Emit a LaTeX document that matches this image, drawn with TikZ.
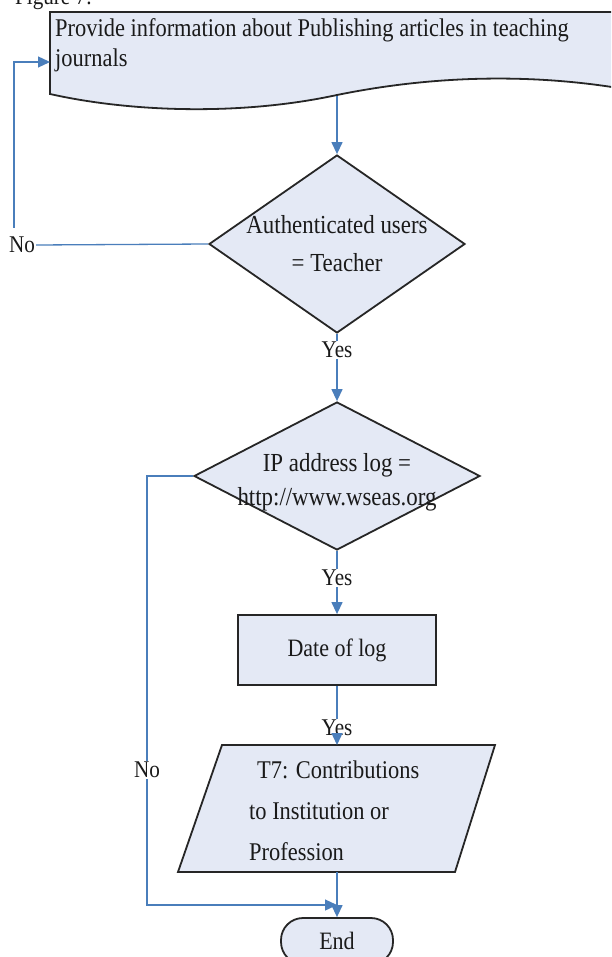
\documentclass[tikz,border=0pt]{standalone}
\usepackage{fontspec}
\setmainfont[FakeStretch=0.88]{Liberation Serif}
\usetikzlibrary{shapes.geometric,arrows.meta}
\definecolor{fillc}{HTML}{E4E9F5}
\definecolor{linec}{HTML}{4A7EBB}
\definecolor{textc}{HTML}{1A1A1A}
\begin{document}
\begin{tikzpicture}[x=1pt,y=-1pt,
  shapeline/.style={draw=black!85, line width=1.8pt, fill=fillc},
  conn/.style={draw=linec, line width=1.3pt},
  arr/.style={conn, -{Triangle[length=12pt,width=11pt]}},
  lbl/.style={font=\fontsize{24}{28}\selectfont, inner sep=1pt, text=textc},
  txt/.style={font=\fontsize{25}{36}\selectfont, align=center, text=textc, inner sep=0pt}]
\useasboundingbox (0,0) rectangle (611,957);
\clip (0,0) rectangle (611,957);
\fill[white] (0,0) rectangle (611,957);

% caption fragment
\node[lbl, anchor=base west] (cap) at (14,5) {Figure 7:};

% document shape
\draw[shapeline] (50,12) -- (630,12) -- (630,90) .. controls (540,74) and (440,74) .. (337,95) .. controls (240,116) and (130,112) .. (50,94) -- cycle;
\node[txt, align=left, anchor=west, font=\fontsize{25.5}{30}\selectfont] (doc) at (55,45) {Provide information about Publishing articles in teaching\\journals};
\coordinate (docin) at (50,62);
\coordinate (docout) at (337,96);

% decision 1
\node[diamond, shapeline, minimum width=256pt, minimum height=178pt, inner sep=0pt] (d1) at (337,244) {};
\node[txt, font=\fontsize{26}{38}\selectfont] (d1t) at (337,244) {Authenticated users\\= Teacher};

% decision 2
\node[diamond, shapeline, minimum width=286pt, minimum height=148pt, inner sep=0pt] (d2) at (337,476) {};
\node[txt, font=\fontsize{26}{34}\selectfont] (d2t) at (337,482) {IP address log =\\http://www.wseas.org};

% process box
\node[shapeline, rectangle, minimum width=198pt, minimum height=70pt, txt] (box) at (337,650) {Date of log};

% data parallelogram
\draw[shapeline] (222,745) -- (495,745) -- (455,872) -- (178,872) -- cycle;
\coordinate (ptop) at (337,745);
\coordinate (pbot) at (337,872);
\node[txt, align=left, anchor=west, font=\fontsize{25.5}{41}\selectfont] (pt) at (249,811) {\hspace*{8pt}T7: Contributions\\to Institution or\\Profession};

% terminal
\node[shapeline, rectangle, rounded corners=22pt, minimum width=112pt, minimum height=46pt, txt] (end) at (337,941) {End};

% labels
\node[lbl] (no1) at (22,245) {No};
\node[lbl] (yes1) at (337,350) {Yes};
\node[lbl] (yes2) at (337,578) {Yes};
\node[lbl] (yes3) at (337,728) {Yes};
\node[lbl] (no2) at (147,770) {No};
\coordinate (n1up) at (14,228);
\coordinate (junc) at (337,905);

% connectors
\draw[arr] (docout) -- (d1.north);
\draw[conn] (d1.west) -- (no1.east);
\draw[arr] (n1up) |- (docin);
\draw[conn] (d1.south) -- (yes1.north);
\draw[arr] (yes1.south) -- (d2.north);
\draw[conn] (d2.south) -- (yes2.north);
\draw[arr] (yes2.south) -- (box.north);
\draw[conn] (box.south) -- (yes3.north);
\draw[arr] (yes3.south) -- (ptop);
\draw[conn] (d2.west) -| (no2.north);
\draw[arr] (no2.south) |- (junc);
\draw[arr] (pbot) -- (end.north);
\end{tikzpicture}
\end{document}
